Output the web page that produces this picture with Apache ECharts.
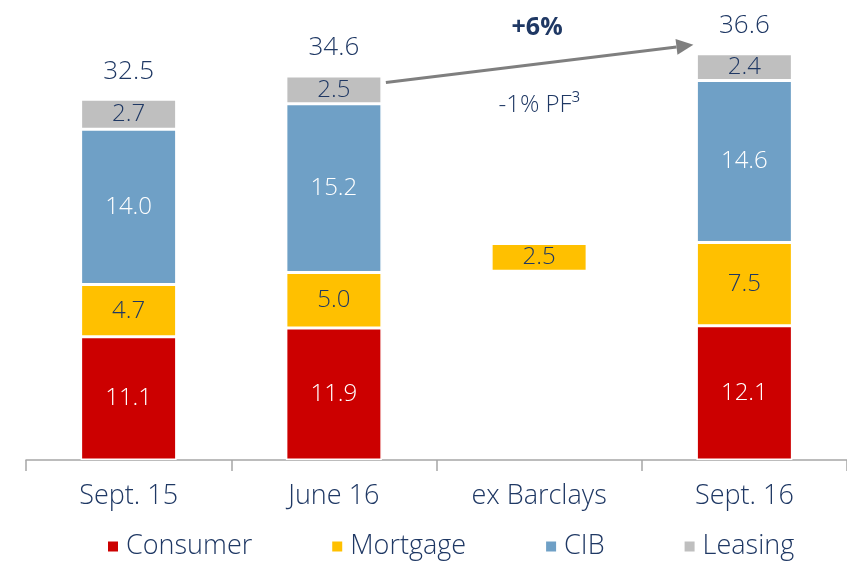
<!DOCTYPE html>
<html>
<head>
<meta charset="utf-8">
<script src="https://cdn.jsdelivr.net/npm/echarts@6/dist/echarts.min.js"></script>
<style>
  html, body { margin: 0; padding: 0; background: #fff; }
  #chart { width: 847px; height: 563px; }
</style>
</head>
<body>
<div id="chart"></div>
<script>
// categories and values
const categories = ['Sept. 15', 'June 16', 'ex Barclays', 'Sept. 16'];
const consumer = [11.1, 11.9, null, 12.1];
const mortgage = [4.7, 5.0, 2.5, 7.5];
const cib = [14.0, 15.2, null, 14.6];
const leasing = [2.7, 2.5, null, 2.4];
const offset = [0, 0, 17.0, 0]; // invisible base for the floating bar
const totals = ['32.5', '34.6', '', '36.6'];

const navy = '#1F3864';
const font = '"Open Sans", Lato, sans-serif';

const chart = echarts.init(document.getElementById('chart'));

function seg(name, data, color, textColor) {
  return {
    name,
    type: 'bar',
    stack: 'total',
    barWidth: 96,
    data,
    itemStyle: { color, borderColor: '#fff', borderWidth: 1.5 },
    label: {
      show: true,
      position: 'inside',
      color: textColor,
      fontFamily: font,
      fontWeight: 300,
      fontSize: 24,
      formatter: p => p.value.toFixed(1)
    }
  };
}

const option = {
  animation: false,
  grid: { left: 26, right: -7, top: 16, bottom: 103 },
  legend: {
    bottom: -2,
    left: 101,
    itemWidth: 12,
    itemHeight: 12,
    itemGap: 78,
    icon: 'rect',
    textStyle: { color: navy, fontFamily: font, fontWeight: 300, fontSize: 27, padding: [0, 0, 0, 2] },
    data: ['Consumer', 'Mortgage', 'CIB', 'Leasing']
  },
  xAxis: {
    type: 'category',
    data: categories,
    axisLine: { lineStyle: { color: '#A6A6A6', width: 1.5 } },
    axisTick: { show: true, length: 11, lineStyle: { color: '#A6A6A6', width: 1.5 } },
    axisLabel: { color: navy, fontFamily: font, fontWeight: 300, fontSize: 27, margin: 23 }
  },
  yAxis: {
    type: 'value',
    min: 0,
    max: 40,
    show: false
  },
  series: [
    {
      name: 'base',
      type: 'bar',
      stack: 'total',
      barWidth: 96,
      data: offset,
      itemStyle: { color: 'transparent' },
      silent: true
    },
    seg('Consumer', consumer, '#CC0000', '#fff'),
    seg('Mortgage', mortgage, '#FFC000', navy),
    seg('CIB', cib, '#6FA0C6', '#fff'),
    seg('Leasing', leasing, '#BFBFBF', navy),
    {
      name: 'totals',
      type: 'bar',
      stack: 'total',
      barWidth: 96,
      data: totals.map(() => 0),
      itemStyle: { color: 'transparent' },
      label: {
        show: true,
        position: 'top',
        distance: 15,
        color: navy,
        fontFamily: font,
        fontWeight: 300,
        fontSize: 26,
        formatter: p => totals[p.dataIndex]
      }
    }
  ]
};

chart.setOption(option);

// annotation arrow from June 16 to Sept. 16, placed through the chart scales
const p0 = chart.convertToPixel({ gridIndex: 0 }, [1, 34.0]);
const p1 = chart.convertToPixel({ gridIndex: 0 }, [3, 37.4]);
const x0 = p0[0] + 52;
const x1 = p1[0] - 51;
const y0 = p0[1];
const y1 = p1[1];
const ang = Math.atan2(y1 - y0, x1 - x0);
const hl = 17, hw = 8;
const bx = x1 - hl * Math.cos(ang), by = y1 - hl * Math.sin(ang);
const mid = chart.convertToPixel({ gridIndex: 0 }, [2, 0]);

chart.setOption({
  graphic: [
    {
      type: 'line',
      shape: { x1: x0, y1: y0, x2: bx, y2: by },
      style: { stroke: '#7F7F7F', lineWidth: 3 }
    },
    {
      type: 'polygon',
      shape: {
        points: [
          [x1, y1],
          [bx - hw * Math.sin(ang), by + hw * Math.cos(ang)],
          [bx + hw * Math.sin(ang), by - hw * Math.cos(ang)]
        ]
      },
      style: { fill: '#7F7F7F' }
    },
    {
      type: 'text',
      x: mid[0] - 2,
      y: 28,
      style: {
        text: '+6%',
        fill: navy,
        font: 'bold 25px ' + font,
        align: 'center',
        verticalAlign: 'middle'
      }
    },
    {
      type: 'text',
      x: mid[0],
      y: 105,
      style: {
        text: '-1% PF³',
        fill: navy,
        font: '300 24px ' + font,
        align: 'center',
        verticalAlign: 'middle'
      }
    }
  ]
});
</script>
</body>
</html>
